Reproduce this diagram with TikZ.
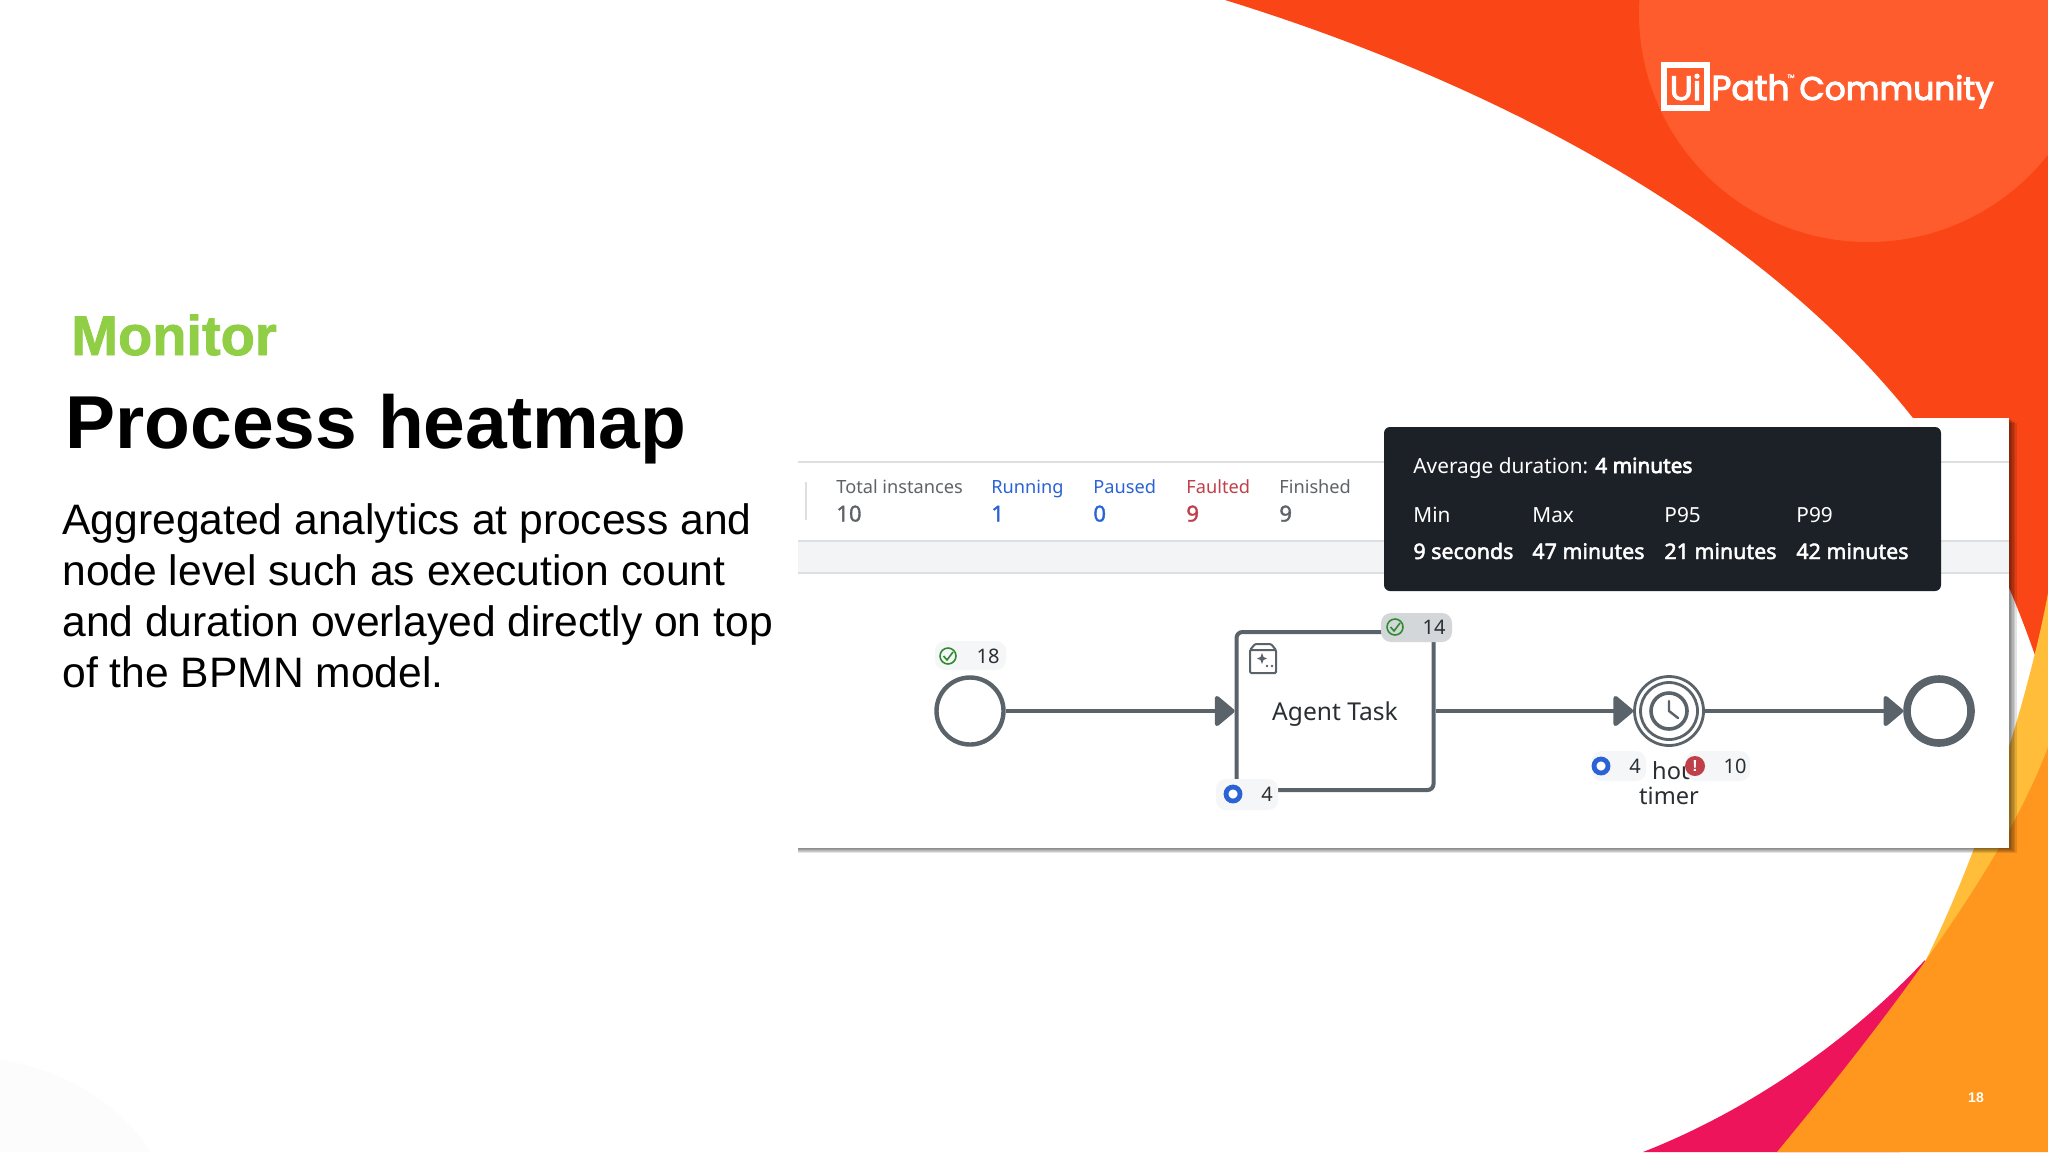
\documentclass[tikz,border=0pt]{standalone}
\usepackage{fontspec}
\setmainfont{Liberation Sans}
\newfontfamily\uifont{Noto Sans}
\newfontfamily\uibold[FakeBold=2.2]{Noto Sans}
\newfontfamily\uiheavy[FakeBold=3.2]{Noto Sans}
\newfontfamily\uimed[FakeBold=1.6]{Noto Sans}
\newfontfamily\logofont[FakeBold=3]{Poppins}
\newfontfamily\headfont[FakeBold=1.5]{Liberation Sans Bold}
\usetikzlibrary{arrows.meta}
\definecolor{flow}{HTML}{5A6369}
\definecolor{ink}{HTML}{2A2F34}
\definecolor{muted}{HTML}{5F6368}
\definecolor{runblue}{HTML}{2B63D6}
\definecolor{faultred}{HTML}{C0404A}
\definecolor{okgreen}{HTML}{2E8B2E}
\definecolor{tipbg}{HTML}{1C2127}
\definecolor{redorange}{HTML}{FA4616}
\definecolor{lightorange}{HTML}{FF5C2E}
\definecolor{amber}{HTML}{FF961E}
\definecolor{yellowamber}{HTML}{FFBD3A}
\definecolor{magenta}{HTML}{ED145B}
\definecolor{bandgray}{HTML}{F3F4F5}
\definecolor{rulegray}{HTML}{DDE0E2}
\definecolor{monitorgreen}{HTML}{8FCE45}
\definecolor{badgehi}{HTML}{D3D7DA}
\definecolor{badgelo}{HTML}{F5F6F7}
\definecolor{faint}{HTML}{FCFCFC}
\tikzset{
  x=0.5pt,y=-0.5pt,
  ui/.style={font=\uifont\fontsize{9.1}{12}\selectfont,anchor=base west,inner sep=0pt},
  val/.style={font=\uimed\fontsize{11}{13}\selectfont,anchor=base west,inner sep=0pt},
  tip/.style={font=\uifont\fontsize{10.4}{12}\selectfont,anchor=base west,inner sep=0pt,text=white},
  tipb/.style={font=\uibold\fontsize{10.7}{12}\selectfont,anchor=base west,inner sep=0pt,text=white},
  cnt/.style={font=\uifont\fontsize{10}{12}\selectfont,anchor=center,inner sep=0pt,text=ink},
  body/.style={font=\fontsize{21.3}{27}\selectfont,anchor=base west,inner sep=0pt},
  flowline/.style={flow,line width=2.2pt,-{Triangle[length=10.5pt,width=17pt,round]}},
  badge/.style={rounded corners=5pt,draw=none},
  logo/.style={inner sep=0pt,anchor=base west,text=white},
  cardshade/.style={fill=black,fill opacity=.11},
}
\begin{document}
\begin{tikzpicture}
\useasboundingbox (0,0) rectangle (2048,1152);
\fill[white] (0,0) rectangle (2048,1152);
\fill[faint] (0,1060) .. controls (70,1070) and (125,1110) .. (150,1152) -- (0,1152) -- cycle;
% background
\fill[redorange] (1225,0) .. controls (1500,85) and (1760,225) .. (1913,418)
  .. controls (1960,470) and (2010,580) .. (2040,670) -- (2048,670) -- (2048,0) -- cycle;
\begin{scope}
\clip (1225,0) rectangle (2048,300);
\fill[lightorange] (1868,13) circle [radius=229];
\end{scope}
\fill[yellowamber] (2048,593) .. controls (2030,690) and (1985,840) .. (1925,962) -- (1960,1000) -- (2048,1000) -- cycle;
\fill[magenta] (1925,960) .. controls (1850,1040) and (1750,1110) .. (1643,1152) -- (1900,1152) -- cycle;
\fill[amber] (2048,747) .. controls (2010,850) and (1915,985) .. (1777,1152) -- (2048,1152) -- cycle;
% logo
\draw[white,line width=2.6pt] (1664,65) rectangle (1707,108);
\node[inner sep=0pt,anchor=base,text=white,font=\logofont\fontsize{17}{20}\selectfont] (ui) at (1685.5,100) {Ui};
\node[logo,font=\logofont\fontsize{17.3}{20}\selectfont] (pth) at (1711,100) {Path};
\node[logo,font=\logofont\fontsize{2.5}{3}\selectfont] (tm) at (1787,78) {TM};
\node[logo,font=\logofont\fontsize{16.4}{20}\selectfont] (comm) at (1799,100) {Community};
\node[inner sep=0pt,anchor=base,text=white,font=\bfseries\fontsize{7}{8}\selectfont] (pg) at (1976,1102) {18};
% left text
\node[inner sep=0pt,anchor=base west,text=monitorgreen,font=\headfont\fontsize{28}{34}\selectfont] (mon) at (71,355) {Monitor};
\node[inner sep=0pt,anchor=base west,font=\bfseries\fontsize{37.5}{42}\selectfont] (ttl) at (65,448) {Process heatmap};
\node[body] (b1) at (62,534.5) {Aggregated analytics at process and};
\node[body] (b2) at (62,585.5) {node level such as execution count};
\node[body] (b3) at (62,636.5) {and duration overlayed directly on top};
\node[body] (b4) at (62,687.5) {of the BPMN model.};
% card
\foreach \i in {1,...,5}{
  \fill[cardshade] (798,{418+\i}) rectangle ({2009+1.5*\i},{848+\i});
}
\fill[white] (798,418) rectangle (2009,848);
\draw[rulegray,line width=1pt] (798,462) -- (2009,462);
\fill[bandgray] (798,541) rectangle (2009,573);
\draw[rulegray,line width=1pt] (798,541) -- (2009,541);
\draw[rulegray,line width=1pt] (798,573) -- (2009,573);
\draw[rulegray,line width=.7pt] (806,482) -- (806,520);
% stats
\node[ui,text=muted] (s1) at (836,493) {Total instances};
\node[val,text=muted] (v1) at (836,521.5) {10};
\node[ui,text=runblue] (s2) at (991,493) {Running};
\node[val,text=runblue] (v2) at (991,521.5) {1};
\node[ui,text=runblue] (s3) at (1093,493) {Paused};
\node[val,text=runblue] (v3) at (1093,521.5) {0};
\node[ui,text=faultred] (s4) at (1186,493) {Faulted};
\node[val,text=faultred] (v4) at (1186,521.5) {9};
\node[ui,text=muted] (s5) at (1279,493) {Finished};
\node[val,text=muted] (v5) at (1279,521.5) {9};
% tooltip
\fill[tipbg,rounded corners=3pt] (1384,427) rectangle (1941,591);
\node[tip] (t0) at (1413,473) {Average duration: {\uiheavy 4 minutes}};
\node[tip] (t1) at (1413,522) {Min};
\node[tip] (t2) at (1532,522) {Max};
\node[tip] (t3) at (1664,522) {P95};
\node[tip] (t4) at (1796,522) {P99};
\node[tipb] (u1) at (1413,559) {9 seconds};
\node[tipb] (u2) at (1532,559) {47 minutes};
\node[tipb] (u3) at (1664,559) {21 minutes};
\node[tipb] (u4) at (1796,559) {42 minutes};
% BPMN
\node[circle,draw=flow,line width=2.2pt,fill=white,minimum size=33.5pt,inner sep=0pt] (start) at (970,711) {};
\node[draw=flow,line width=2pt,rounded corners=3pt,fill=white,minimum width=98.5pt,minimum height=79pt,inner sep=0pt] (task) at (1335,711) {};
\node[font=\uifont\fontsize{12.3}{14}\selectfont,text=ink,inner sep=0pt] (tasklbl) at (1335,714.5) {Agent Task};
\draw[flow,line width=1pt,rounded corners=.6pt] (1250,650) -- (1250,673) -- (1276,673) -- (1276,650) -- (1271,644) -- (1255,644) -- (1250,650) -- (1276,650);
\fill[flow] (1262,653) -- (1263.5,657) -- (1267,658.5) -- (1263.5,660) -- (1262,664) -- (1260.5,660) -- (1257,658.5) -- (1260.5,657) -- cycle;
\fill[flow] (1267,666) circle[radius=1.4] (1272,666) circle[radius=1.4];
\node[circle,draw=flow,line width=1.4pt,fill=white,minimum size=34.5pt,inner sep=0pt] (timer) at (1669,711) {};
\node[circle,draw=flow,line width=1.4pt,minimum size=28.5pt,inner sep=0pt] (timerin) at (1669,711) {};
\node[circle,draw=flow,line width=1.8pt,minimum size=18pt,inner sep=0pt] (clock) at (1669,711) {};
\draw[flow,line width=1.2pt,line cap=round] (1669,701) -- (1669,711) -- (1678,718);
\node[circle,draw=flow,line width=3.8pt,fill=white,minimum size=32pt,inner sep=0pt] (end) at (1939,711) {};
\draw[flowline] (start) -- (task);
\draw[flowline] (task) -- (timer);
\draw[flowline] (timer) -- (end);
\node[font=\uifont\fontsize{11.8}{12.5}\selectfont,text=ink,inner sep=0pt,align=center,anchor=north] (tmlbl) at (1669,761) {1 hour\\timer};
% badges
\fill[badgelo,badge] (935,641) rectangle (1006,670);
\node[circle,draw=okgreen,line width=.8pt,minimum size=8pt,inner sep=0pt] (ok1) at (948,656) {};
\draw[okgreen,line width=.8pt] (943.5,656) -- (947,660) -- (953,652);
\node[cnt] (n1) at (988,656) {18};
\fill[badgehi,badge] (1381,613) rectangle (1452,642);
\node[circle,draw=okgreen,line width=.8pt,minimum size=8pt,inner sep=0pt] (ok2) at (1395,627) {};
\draw[okgreen,line width=.8pt] (1390.5,627) -- (1394,631) -- (1400,623);
\node[cnt] (n2) at (1434,627) {14};
\fill[badgelo,badge] (1216,779) rectangle (1278,810);
\node[circle,draw=runblue,line width=2.4pt,fill=white,minimum size=7pt,inner sep=0pt] (rn1) at (1233,794) {};
\node[cnt] (n3) at (1267,794) {4};
\fill[badgelo,badge] (1592,751) rectangle (1646,781);
\node[circle,draw=runblue,line width=2.4pt,fill=white,minimum size=7pt,inner sep=0pt] (rn2) at (1601,766) {};
\node[cnt] (n4) at (1635,766) {4};
\fill[badgelo,badge] (1686,751) rectangle (1750,781);
\node[circle,fill=faultred,minimum size=10pt,inner sep=0pt,text=white,font=\bfseries\fontsize{8}{8}\selectfont] (fl) at (1695,766) {!};
\node[cnt] (n5) at (1735,766) {10};
\end{tikzpicture}
\end{document}
